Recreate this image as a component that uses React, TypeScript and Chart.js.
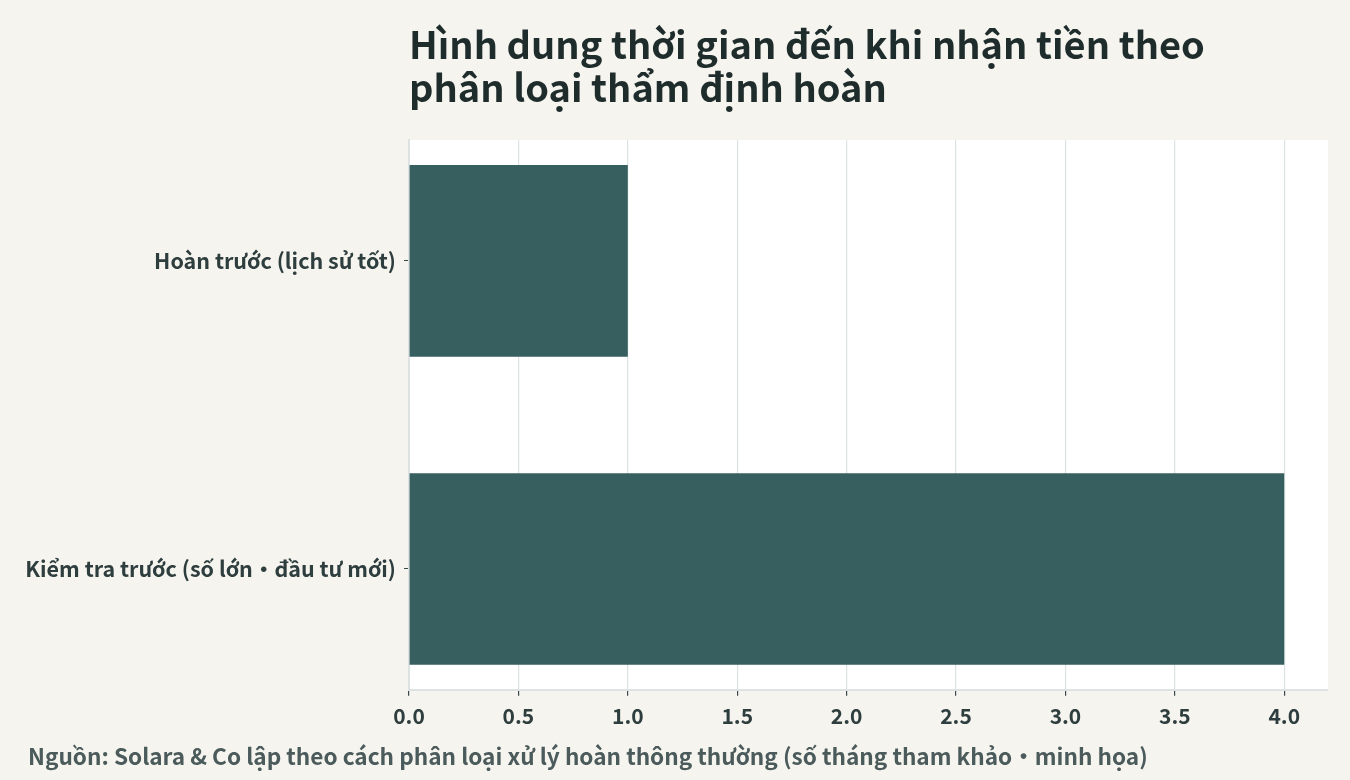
import React, { useEffect, useRef } from "react";
import { Chart, registerables } from "chart.js";

Chart.register(...registerables);

const categories = ["Hoàn trước (lịch sử tốt)", "Kiểm tra trước (số lớn・đầu tư mới)"];
const months = [1.0, 4.0];
const titleLines = ["Hình dung thời gian đến khi nhận tiền theo", "phân loại thẩm định hoàn"];
const footerText = "Nguồn: Solara & Co lập theo cách phân loại xử lý hoàn thông thường (số tháng tham khảo・minh họa)";

const FONT = "'Noto Sans CJK JP', 'Noto Sans', sans-serif";

const decorPlugin = {
  id: "decor",
  beforeDraw(chart: any) {
    const { ctx, chartArea, width, height } = chart;
    ctx.save();
    ctx.fillStyle = "#f5f4ef";
    ctx.fillRect(0, 0, width, height);
    ctx.fillStyle = "#ffffff";
    ctx.fillRect(chartArea.left, chartArea.top, chartArea.right - chartArea.left, chartArea.bottom - chartArea.top);
    ctx.restore();
  },
  afterDraw(chart: any) {
    const { ctx, chartArea } = chart;
    ctx.save();
    ctx.fillStyle = "#1f2c2c";
    ctx.font = `bold 38px ${FONT}`;
    ctx.textBaseline = "alphabetic";
    ctx.textAlign = "left";
    titleLines.forEach((l, i) => ctx.fillText(l, chartArea.left, 59 + i * 43));
    ctx.fillStyle = "#4b5a5a";
    ctx.font = `bold 22.6px ${FONT}`;
    ctx.textBaseline = "middle";
    ctx.fillText(footerText, 28, 756);
    ctx.restore();
  },
};

export default function App() {
  const ref = useRef<HTMLCanvasElement>(null);
  useEffect(() => {
    document.body.style.margin = "0";
    const chart = new Chart(ref.current!, {
      type: "bar",
      data: {
        datasets: [
          {
            data: months.map((v, i) => ({ x: v, y: i })),
            backgroundColor: "#385f5f",
            borderWidth: 0,
            barPercentage: 0.622,
            categoryPercentage: 1,
          },
        ],
      },
      options: {
        indexAxis: "y",
        responsive: false,
        animation: false,
        layout: { padding: { top: 140, right: 22, bottom: 43, left: 0 } },
        plugins: { legend: { display: false }, tooltip: { enabled: false }, title: { display: false } },
        scales: {
          x: {
            type: "linear",
            min: 0,
            max: 4.2,
            ticks: {
              stepSize: 0.5,
              includeBounds: false,
              color: "#2e3d3d",
              font: { family: FONT, size: 21, weight: "bold" },
              padding: 8,
              callback: (v: any) => Number(v).toFixed(1),
            },
            grid: { color: "#dde2e2", lineWidth: 1.2, tickColor: "#3a4a4a", tickLength: 6 },
            border: { color: "#dde2e2", width: 2 },
          },
          y: {
            type: "linear",
            reverse: true,
            offset: false,
            min: -0.392,
            max: 1.392,
            afterBuildTicks: (s: any) => {
              s.ticks = categories.map((_, i) => ({ value: i }));
            },
            ticks: {
              color: "#2e3d3d",
              font: { family: FONT, size: 21.5, weight: "bold" },
              padding: 8,
              callback: (v: any) => categories[Math.round(Number(v))] ?? "",
            },
            grid: { offset: false, color: "transparent", tickColor: "#3a4a4a", tickLength: 5 },
            border: { color: "#dde2e2", width: 2 },
            afterFit: (s: any) => {
              s.width = 409;
            },
          },
        },
      },
      plugins: [decorPlugin],
    });
    return () => chart.destroy();
  }, []);
  return (
    <div style={{ position: "fixed", left: 0, top: 0, width: 1350, height: 780, background: "#f5f4ef" }}>
      <canvas ref={ref} width={1350} height={780} />
    </div>
  );
}
